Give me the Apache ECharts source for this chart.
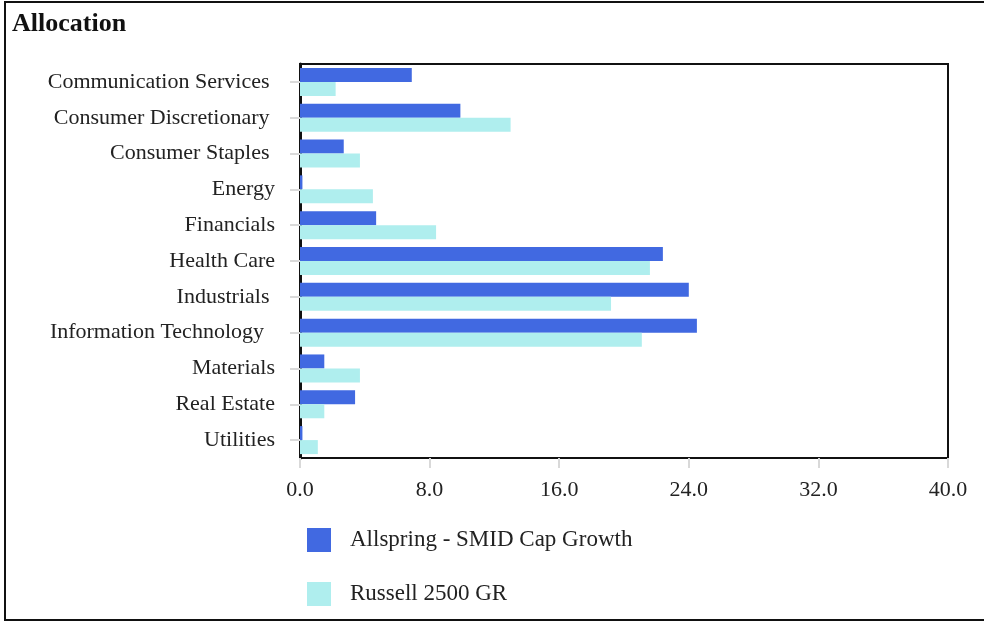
<!DOCTYPE html>
<html>
<head>
<meta charset="utf-8">
<script src="https://cdn.jsdelivr.net/npm/echarts@6/dist/echarts.min.js"></script>
<style>
html,body{margin:0;padding:0;background:#fff;overflow:hidden;}
#frame{position:absolute;left:4px;top:1px;width:990px;height:620px;border-left:2px solid #111;border-top:2px solid #111;border-bottom:2px solid #111;box-sizing:border-box;}
#chart{position:absolute;left:0;top:0;width:984px;height:621px;}
</style>
</head>
<body>
<div id="chart"></div>
<div id="frame"></div>
<script>
const categories = ["Communication Services ", "Consumer Discretionary ", "Consumer Staples ", "Energy", "Financials", "Health Care", "Industrials ", "Information Technology  ", "Materials", "Real Estate", "Utilities"];
const fundName = "Allspring - SMID Cap Growth";
const benchName = "Russell 2500 GR";
const fundValues = [6.9, 9.9, 2.7, 0.15, 4.7, 22.4, 24.0, 24.5, 1.5, 3.4, 0.15];
const benchValues = [2.2, 13.0, 3.7, 4.5, 8.4, 21.6, 19.2, 21.1, 3.7, 1.5, 1.1];
const xTicks = { min: 0, max: 40, interval: 8 };

const font = "'Liberation Serif', 'DejaVu Serif', serif";
const chart = echarts.init(document.getElementById('chart'), null, { renderer: 'canvas' });
chart.setOption({
  animation: false,
  backgroundColor: '#fff',
  title: {
    text: 'Allocation', left: 7, top: 6,
    textStyle: { fontFamily: font, fontSize: 26, fontWeight: 'bold', color: '#111' }
  },
  grid: {
    left: 300, right: 36, top: 64, bottom: 163,
    show: true, borderColor: '#111', borderWidth: 2, backgroundColor: 'transparent'
  },
  legend: {
    orient: 'vertical', left: 307, top: 528, padding: 0,
    itemWidth: 24, itemHeight: 24, itemGap: 30, icon: 'rect',
    data: [fundName, benchName],
    textStyle: { fontFamily: font, fontSize: 23, color: '#222', padding: [0, 0, 0, 14] }
  },
  xAxis: {
    type: 'value', min: xTicks.min, max: xTicks.max, interval: xTicks.interval,
    axisLine: { show: true, lineStyle: { color: '#111', width: 2 } },
    axisTick: { show: true, length: 10, lineStyle: { color: '#d9d9d9', width: 2 } },
    axisLabel: { margin: 21, fontFamily: font, fontSize: 22, color: '#222', formatter: v => v.toFixed(1) },
    splitLine: { show: false }
  },
  yAxis: {
    type: 'category', data: categories, inverse: true,
    axisLine: { show: true, lineStyle: { color: '#111', width: 3 } },
    axisTick: { show: true, alignWithLabel: true, length: 10, inside: false, lineStyle: { color: '#d9d9d9', width: 2 } },
    axisLabel: { margin: 25, fontFamily: font, fontSize: 22, color: '#222' }
  },
  series: [
    { name: fundName, type: 'bar', data: fundValues, barWidth: 14, barGap: '0%', itemStyle: { color: '#4169E1' } },
    { name: benchName, type: 'bar', data: benchValues, barWidth: 14, barGap: '0%', itemStyle: { color: '#AFEEEE' } }
  ]
});
</script>
</body>
</html>
